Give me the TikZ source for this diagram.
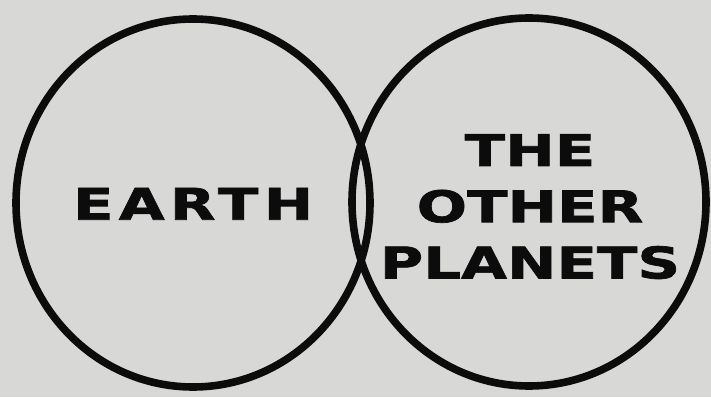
\documentclass[tikz,border=0pt]{standalone}
\usepackage{fontspec}
\usepackage{tikz}
\usetikzlibrary{shapes.geometric}
\usepackage{xcolor}
\newfontfamily\planetfont[FakeStretch=1.36,BoldFeatures={FakeBold=1.6}]{DejaVu Sans}
\definecolor{paper}{RGB}{216,216,214}
\definecolor{inkblack}{RGB}{12,12,12}

\begin{document}
\begin{tikzpicture}[
  world/.style={draw=inkblack,ellipse,line width=5.4pt,minimum width=8.85cm,minimum height=9.2cm,inner sep=0pt},
  worldlabel/.style={text=inkblack,align=center,font=\planetfont\bfseries\fontsize{31}{40}\selectfont}]
\fill[paper] (0,0) rectangle (17.775,9.925);
\useasboundingbox (0,0) rectangle (17.775,9.925);
\node[world] (earth) at (4.825,4.85) {};
\node[world] (others) at (13.225,4.875) {};
\node[worldlabel] (earthname) at (4.83,4.83) {\addfontfeature{LetterSpace=12}EARTH};
\node[worldlabel] (othersname) at (13.25,4.76) {THE\\OTHER\\PLANETS};
\end{tikzpicture}
\end{document}
